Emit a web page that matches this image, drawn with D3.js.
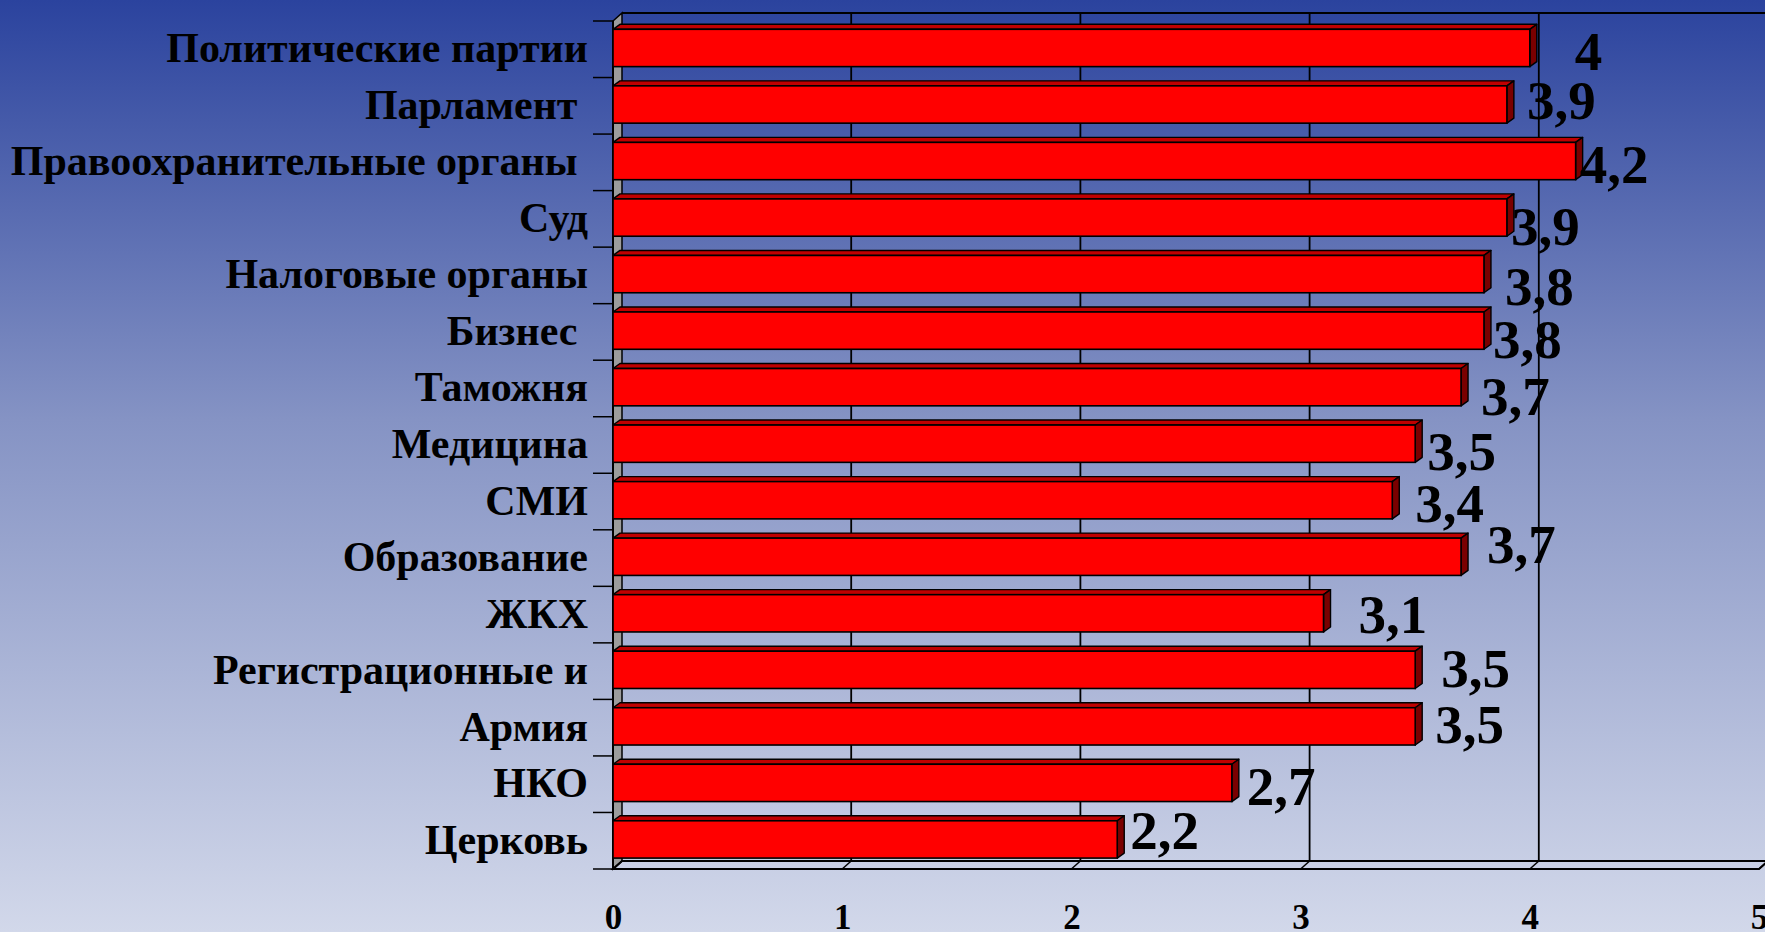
<!DOCTYPE html>
<html>
<head>
<meta charset="utf-8">
<script src="https://cdn.jsdelivr.net/npm/d3@7"></script>
<style>
  html, body { margin: 0; padding: 0; overflow: hidden; }
  svg { display: block; }
  text { white-space: pre; }
</style>
</head>
<body>
<svg id="chart" width="1765" height="932"></svg>
<script>
// ---- data ----
const categories = [
  "Политические партии",
  "Парламент ",
  "Правоохранительные органы ",
  "Суд",
  "Налоговые органы",
  "Бизнес ",
  "Таможня",
  "Медицина",
  "СМИ",
  "Образование",
  "ЖКХ",
  "Регистрационные и",
  "Армия",
  "НКО",
  "Церковь"
];
const values = [4, 3.9, 4.2, 3.9, 3.8, 3.8, 3.7, 3.5, 3.4, 3.7, 3.1, 3.5, 3.5, 2.7, 2.2];
const xTicks = [0, 1, 2, 3, 4, 5];
// manual data-label nudges (as placed in the original chart)
const labelDx = [45, 20, 4, 4, 21, 9, 20, 12, 23, 26, 35, 26, 20, 15, 13];
const labelDy = [21, 13, 21, 26, 30, 26, 27, 25, 20, 5, 18, 16, 15, 21, 8];

// ---- layout ----
const W = 1765, H = 932;
const frontLeft = 613, frontTop = 21, frontBottom = 869;
const depthX = 9, depthY = 8;
const unit = 229.2;
const barDX = 7, barDY = 5;

const svg = d3.select("#chart");
const defs = svg.append("defs");
const grad = defs.append("linearGradient").attr("id", "bg").attr("x1", 0).attr("y1", 0).attr("x2", 0).attr("y2", 1);
grad.append("stop").attr("offset", "0%").attr("stop-color", "#2b439e");
grad.append("stop").attr("offset", "45%").attr("stop-color", "#8593c4");
grad.append("stop").attr("offset", "100%").attr("stop-color", "#d2d8ea");
svg.append("rect").attr("width", W).attr("height", H).attr("fill", "url(#bg)");

const xF = d3.scaleLinear().domain([0, 5]).range([frontLeft, frontLeft + 5 * unit]);
const xB = v => xF(v) + depthX;
const y = d3.scaleBand().domain(categories.map((c, i) => i)).range([frontTop, frontBottom]).paddingInner(0.34).paddingOuter(0.17);
const step = y.step();
const bandCenter = i => frontTop + (i + 0.5) * step;

const line = "#000";

// left wall (gray)
svg.append("path")
  .attr("d", `M${xF(0)},${frontTop} L${xB(0)},${frontTop - depthY} L${xB(0)},${frontBottom - depthY} L${xF(0)},${frontBottom} Z`)
  .attr("fill", "#9c9c9c").attr("stroke", line).attr("stroke-width", 1.5);

// floor
svg.append("path")
  .attr("d", `M${xF(0)},${frontBottom} L${xB(0)},${frontBottom - depthY} L${xB(5)},${frontBottom - depthY} L${xF(5)},${frontBottom} Z`)
  .attr("fill", "none").attr("stroke", line).attr("stroke-width", 2);

// back-wall top edge
svg.append("line")
  .attr("x1", xB(0)).attr("y1", frontTop - depthY).attr("x2", W).attr("y2", frontTop - depthY)
  .attr("stroke", line).attr("stroke-width", 2);

// gridlines on back wall + floor diagonals
xTicks.forEach(t => {
  if (t > 0) {
    svg.append("line")
      .attr("x1", xB(t)).attr("y1", frontTop - depthY).attr("x2", xB(t)).attr("y2", frontBottom - depthY)
      .attr("stroke", line).attr("stroke-width", 1.8);
  }
  svg.append("line")
    .attr("x1", xF(t)).attr("y1", frontBottom).attr("x2", xB(t)).attr("y2", frontBottom - depthY)
    .attr("stroke", line).attr("stroke-width", 1.5);
});

// left ticks at band boundaries
d3.range(categories.length + 1).forEach(i => {
  const yy = frontTop + i * step;
  svg.append("line").attr("x1", 593).attr("y1", yy).attr("x2", xF(0)).attr("y2", yy)
    .attr("stroke", line).attr("stroke-width", 1.5);
});
svg.append("line").attr("x1", xF(0)).attr("y1", frontTop).attr("x2", xF(0)).attr("y2", frontBottom)
  .attr("stroke", line).attr("stroke-width", 2);

// bars (3D)
const bars = svg.append("g");
values.forEach((v, i) => {
  const y0 = y(i) - 1.3, h = y.bandwidth();
  const x0 = xF(0), x1 = xF(v);
  const g = bars.append("g");
  g.append("path")
    .attr("d", `M${x0},${y0} L${x0 + barDX},${y0 - barDY} L${x1 + barDX},${y0 - barDY} L${x1},${y0} Z`)
    .attr("fill", "#c00000").attr("stroke", line).attr("stroke-width", 1.4).attr("stroke-linejoin", "round");
  g.append("path")
    .attr("d", `M${x1},${y0} L${x1 + barDX},${y0 - barDY} L${x1 + barDX},${y0 + h - barDY} L${x1},${y0 + h} Z`)
    .attr("fill", "#7a0000").attr("stroke", line).attr("stroke-width", 1.4).attr("stroke-linejoin", "round");
  g.append("rect")
    .attr("x", x0).attr("y", y0).attr("width", x1 - x0).attr("height", h)
    .attr("fill", "#ff0000").attr("stroke", line).attr("stroke-width", 1.6);
});

// category labels
svg.append("g").selectAll("text").data(categories).join("text")
  .attr("x", 588)
  .attr("y", (d, i) => bandCenter(i) + 13)
  .attr("text-anchor", "end")
  .attr("font-family", "'Liberation Serif', 'Times New Roman', serif")
  .attr("font-weight", "bold")
  .attr("font-size", 42)
  .attr("fill", "#000")
  .text(d => d);

// value labels
svg.append("g").selectAll("text").data(values).join("text")
  .attr("x", (d, i) => xF(d) + labelDx[i])
  .attr("y", (d, i) => bandCenter(i) + labelDy[i])
  .attr("font-family", "'Liberation Serif', 'Times New Roman', serif")
  .attr("font-weight", "bold")
  .attr("font-size", 55)
  .attr("fill", "#000")
  .text(d => String(d).replace(".", ","));

// x-axis tick labels
const axis = d3.axisBottom(xF).tickValues(xTicks).tickSize(0).tickPadding(0).tickFormat(d3.format("d"));
const ax = svg.append("g").attr("transform", `translate(0,${929})`).call(axis);
ax.select(".domain").remove();
ax.selectAll("text")
  .attr("dy", 0).attr("y", 0)
  .attr("font-family", "'Liberation Serif', 'Times New Roman', serif")
  .attr("font-weight", "bold")
  .attr("font-size", 35)
  .attr("fill", "#000");
</script>
</body>
</html>
